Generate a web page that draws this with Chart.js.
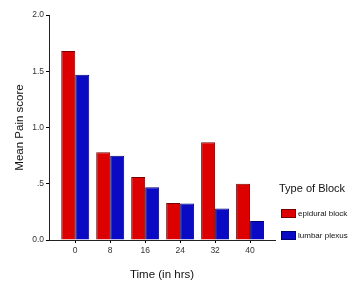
<!DOCTYPE html>
<html>
<head>
<meta charset="utf-8">
<script src="https://cdn.jsdelivr.net/npm/chart.js@4/dist/chart.umd.min.js"></script>
<style>
  html, body { margin: 0; padding: 0; background: #fff; }
  #wrap { width: 351px; height: 286px; position: relative; }
</style>
</head>
<body>
<div id="wrap"><canvas id="c" width="351" height="286"></canvas></div>
<script>
const timePoints = [0, 8, 16, 24, 32, 40];
const epiduralBlock = [1.68, 0.78, 0.56, 0.33, 0.87, 0.50];
const lumbarPlexus = [1.47, 0.75, 0.47, 0.325, 0.28, 0.17];
const seriesNames = ['epidural block', 'lumbar plexus'];
const yTickLabels = {0: '0.0', 0.5: '.5', 1: '1.0', 1.5: '1.5', 2: '2.0'};

const redFill = '#dd0000', redBorder = '#7a0000';
const blueFill = '#0a0ac4', blueBorder = '#000070';

const legendPlugin = {
  id: 'customLegend',
  afterDraw(chart) {
    const ctx = chart.ctx;
    ctx.save();
    ctx.fillStyle = '#111';
    ctx.font = '11px Arial, "Liberation Sans", sans-serif';
    ctx.textBaseline = 'middle';
    ctx.textAlign = 'left';
    ctx.fillText('Type of Block', 279, 189);
    const items = [
      {name: seriesNames[0], fill: redFill, border: redBorder, y: 209},
      {name: seriesNames[1], fill: blueFill, border: blueBorder, y: 231}
    ];
    ctx.font = '8px Arial, "Liberation Sans", sans-serif';
    items.forEach(it => {
      ctx.fillStyle = it.fill;
      ctx.fillRect(281, it.y, 15, 9);
      ctx.strokeStyle = it.border;
      ctx.lineWidth = 1;
      ctx.strokeRect(281.5, it.y + 0.5, 14, 8);
      ctx.fillStyle = '#111';
      ctx.fillText(it.name, 298, it.y + 5);
    });
    ctx.restore();
  }
};

new Chart(document.getElementById('c'), {
  type: 'bar',
  data: {
    datasets: [
      {
        label: seriesNames[0],
        data: timePoints.map((t, i) => ({x: t, y: epiduralBlock[i]})),
        backgroundColor: redFill,
        borderColor: redBorder,
        borderWidth: 1,
        categoryPercentage: 0.8,
        barPercentage: 1.0
      },
      {
        label: seriesNames[1],
        data: timePoints.map((t, i) => ({x: t, y: lumbarPlexus[i]})),
        backgroundColor: blueFill,
        borderColor: blueBorder,
        borderWidth: 1,
        categoryPercentage: 0.8,
        barPercentage: 1.0
      }
    ]
  },
  options: {
    responsive: false,
    animation: false,
    devicePixelRatio: 1,
    layout: { padding: { left: 0, right: 76, top: 15, bottom: 0 } },
    plugins: { legend: { display: false }, tooltip: { enabled: false } },
    scales: {
      x: {
        type: 'linear',
        offset: false,
        min: -6,
        max: 45.7,
        afterBuildTicks(scale) { scale.ticks = timePoints.map(v => ({value: v})); },
        afterFit(scale) { scale.height = 46; },
        grid: { display: true, offset: false, drawOnChartArea: false, drawTicks: true, tickLength: 3, color: '#000', tickWidth: 1 },
        border: { display: true, color: '#222', width: 1 },
        ticks: {
          color: '#333',
          font: { size: 8.5, family: 'Arial, "Liberation Sans", sans-serif' },
          padding: 3,
          maxRotation: 0,
          autoSkip: false,
          callback: v => String(v)
        },
        title: {
          display: true,
          text: 'Time (in hrs)',
          color: '#111',
          font: { size: 11.5, family: 'Arial, "Liberation Sans", sans-serif' },
          padding: { top: 0, bottom: 4 }
        }
      },
      y: {
        min: 0,
        max: 2,
        afterBuildTicks(scale) { scale.ticks = [0, 0.5, 1, 1.5, 2].map(v => ({value: v})); },
        afterFit(scale) { scale.width = 49; },
        grid: { display: true, drawOnChartArea: false, drawTicks: true, tickLength: 3, color: '#000', tickWidth: 1 },
        border: { display: true, color: '#222', width: 1 },
        ticks: {
          color: '#333',
          font: { size: 8.5, family: 'Arial, "Liberation Sans", sans-serif' },
          padding: 2,
          callback: v => yTickLabels[v] !== undefined ? yTickLabels[v] : String(v)
        },
        title: {
          display: true,
          text: 'Mean Pain score',
          color: '#111',
          font: { size: 11.5, family: 'Arial, "Liberation Sans", sans-serif' },
          padding: { top: 13, bottom: 0 }
        }
      }
    }
  },
  plugins: [legendPlugin]
});
</script>
</body>
</html>
